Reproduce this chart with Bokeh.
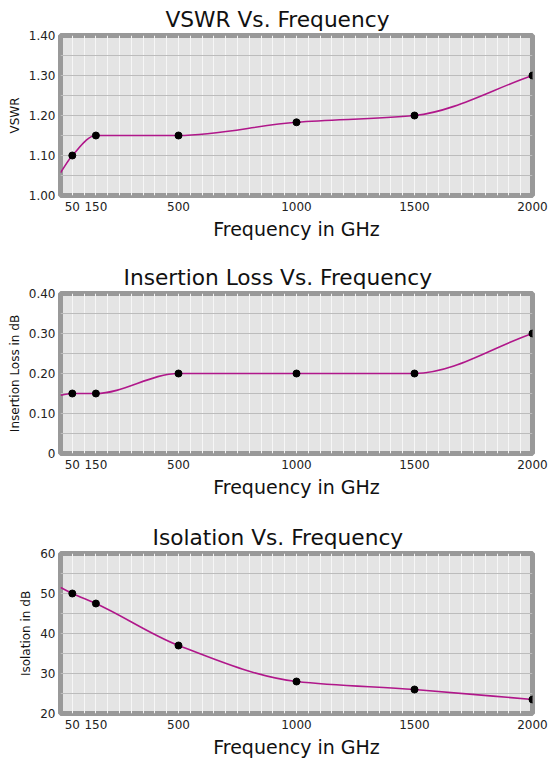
import numpy as np
from bokeh.plotting import figure
from bokeh.layouts import column
from bokeh.models import FixedTicker, ColumnDataSource, Range1d, CustomJSTickFormatter
from bokeh.embed import file_html
from bokeh.resources import INLINE

# ---- data ----
freq = [50, 150, 500, 1000, 1500, 2000]          # GHz (measured points)
freq_ticks = [50, 150, 500, 1000, 1500, 2000]
line_start_freq = 0                                # curve starts at left edge

vswr = [1.10, 1.15, 1.15, 1.183, 1.20, 1.30]
vswr_start = 1.057
vswr_ticks = [1.00, 1.10, 1.20, 1.30, 1.40]

insertion_loss = [0.15, 0.15, 0.20, 0.20, 0.20, 0.30]
insertion_loss_start = 0.146
insertion_loss_ticks = [0, 0.10, 0.20, 0.30, 0.40]

isolation = [50, 47.5, 37, 28, 26, 23.5]
isolation_start = 51.5
isolation_ticks = [20, 30, 40, 50, 60]

FONT = "DejaVu Sans"
LINE_COLOR = "#b0178a"


def smooth_segments(xs, ys):
    """Monotone cubic (PCHIP-style) curve through the points, as bezier segments."""
    x = np.asarray(xs, float)
    y = np.asarray(ys, float)
    h = np.diff(x)
    d = np.diff(y) / h
    n = len(x)
    m = np.zeros(n)
    m[0] = d[0]
    m[-1] = d[-1]
    for k in range(1, n - 1):
        if d[k - 1] * d[k] <= 0:
            m[k] = 0.0
        else:
            w1 = 2 * h[k] + h[k - 1]
            w2 = h[k] + 2 * h[k - 1]
            m[k] = (w1 + w2) / (w1 / d[k - 1] + w2 / d[k])
    for k in range(n - 1):
        if d[k] == 0:
            m[k] = 0.0
            m[k + 1] = 0.0
    for k in range(n - 1):
        if d[k] != 0:
            a = m[k] / d[k]
            b = m[k + 1] / d[k]
            s = a * a + b * b
            if s > 9:
                t = 3 / np.sqrt(s)
                m[k] = t * a * d[k]
                m[k + 1] = t * b * d[k]
    return dict(
        x0=x[:-1], y0=y[:-1], x1=x[1:], y1=y[1:],
        cx0=x[:-1] + h / 3, cy0=y[:-1] + m[:-1] * h / 3,
        cx1=x[1:] - h / 3, cy1=y[1:] - m[1:] * h / 3,
    )


def make_chart(title, title_offset, ylabel, values, start, yticks, ystep, formatter, bottom):
    y0, y1 = yticks[0], yticks[-1]
    p = figure(frame_width=472, frame_height=160,
               x_range=Range1d(0, 2000), y_range=Range1d(y0, y1),
               output_backend="svg", toolbar_location=None,
               min_border_left=60, min_border_right=24,
               min_border_top=35, min_border_bottom=bottom)
    p.title.text = title
    p.title.align = "left"
    p.title.offset = title_offset
    p.title.text_font = FONT
    p.title.text_font_size = "21.7px"
    p.title.text_font_style = "normal"
    p.title.text_color = "#111111"
    p.title.standoff = 8

    p.background_fill_color = "#e4e4e4"
    p.border_fill_color = "white"
    p.outline_line_color = "#999999"
    p.outline_line_width = 5

    # grid
    p.xgrid.ticker = FixedTicker(ticks=list(range(0, 2001, 50)))
    p.xgrid.grid_line_color = "#f6f6f6"
    p.xgrid.grid_line_width = 1
    nsteps = int(round((y1 - y0) / ystep))
    p.ygrid.ticker = FixedTicker(ticks=[y0 + i * ystep for i in range(nsteps + 1)])
    p.ygrid.grid_line_color = "#bcbcbc"
    p.ygrid.grid_line_width = 1

    # axes
    p.xaxis.ticker = FixedTicker(ticks=freq_ticks)
    p.xaxis.axis_label = "Frequency in GHz"
    p.xaxis.axis_label_text_font = FONT
    p.xaxis.axis_label_text_font_size = "19px"
    p.xaxis.axis_label_text_font_style = "normal"
    p.xaxis.axis_label_text_color = "#111111"
    p.xaxis.axis_label_standoff = 4
    p.xaxis.major_label_standoff = 6

    p.yaxis.ticker = FixedTicker(ticks=yticks)
    p.yaxis.axis_label = ylabel
    p.yaxis.axis_label_text_font = FONT
    p.yaxis.axis_label_text_font_size = "12px"
    p.yaxis.axis_label_text_font_style = "normal"
    p.yaxis.axis_label_text_color = "#111111"
    p.yaxis.axis_label_standoff = 4
    p.yaxis.major_label_standoff = 5
    if formatter is not None:
        p.yaxis.formatter = formatter

    for ax in (p.xaxis, p.yaxis):
        ax.axis_line_color = None
        ax.major_tick_line_color = None
        ax.minor_tick_line_color = None
        ax.major_tick_out = 0
        ax.major_tick_in = 0
        ax.minor_tick_out = 0
        ax.minor_tick_in = 0
        ax.major_label_text_font = FONT
        ax.major_label_text_font_size = "12px"
        ax.major_label_text_color = "#222222"

    seg = ColumnDataSource(smooth_segments([line_start_freq] + freq, [start] + values))
    p.bezier(x0="x0", y0="y0", x1="x1", y1="y1", cx0="cx0", cy0="cy0",
             cx1="cx1", cy1="cy1", source=seg, line_color=LINE_COLOR, line_width=1.6)
    p.scatter(freq, values, size=7, fill_color="black", line_color="black")
    return p


fmt2 = CustomJSTickFormatter(code="return tick.toFixed(2);")
fmt_il = CustomJSTickFormatter(code="return tick == 0 ? '0' : tick.toFixed(2);")

p1 = make_chart("VSWR Vs. Frequency", 105, "VSWR", vswr, vswr_start,
                vswr_ticks, 0.05, fmt2, 63)
p2 = make_chart("Insertion Loss Vs. Frequency", 63, "Insertion Loss in dB", insertion_loss,
                insertion_loss_start, insertion_loss_ticks, 0.05, fmt_il, 65)
p3 = make_chart("Isolation Vs. Frequency", 92, "Isolation in dB", isolation, isolation_start,
                isolation_ticks, 5, None, 50)

layout = column(p1, p2, p3, spacing=0)
open("out.html", "w").write(file_html(layout, INLINE))
